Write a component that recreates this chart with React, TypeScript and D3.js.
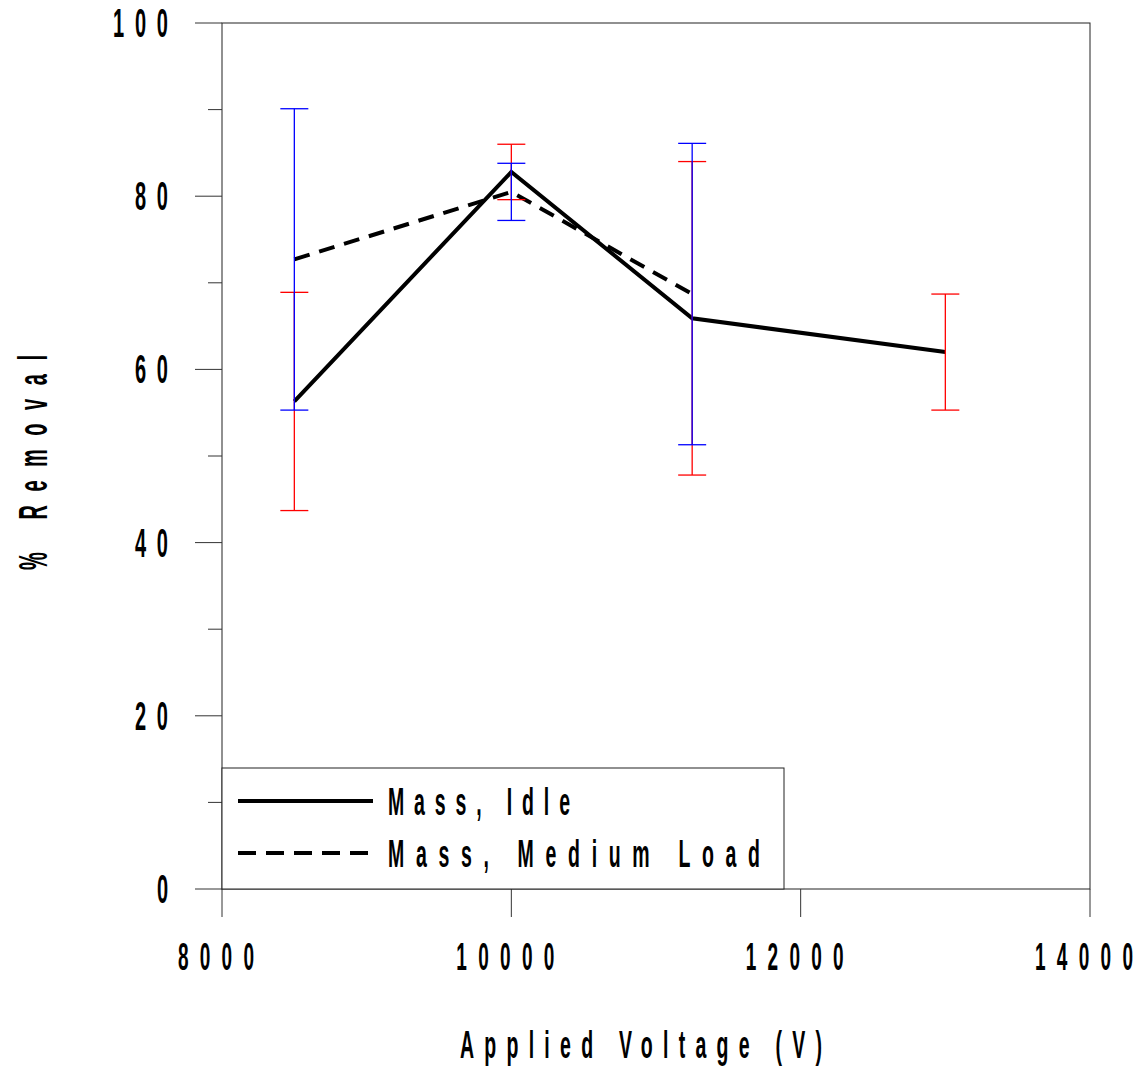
import React from "react";
import * as d3 from "d3";

// Applied voltage (V) at each test point
const voltage = [8500, 10000, 11250, 13000];
// % removal, mass basis, idle engine
const idleRemoval = [56.3, 82.8, 65.9, 62.0];
const idleError = [12.6, 3.2, 18.1, 6.7];
// % removal, mass basis, medium load (no run at 13000 V)
const mediumRemoval = [72.7, 80.5, 68.7];
const mediumError = [17.4, 3.3, 17.4];

const xTicks = [8000, 10000, 12000, 14000];
const yMajorTicks = [0, 20, 40, 60, 80, 100];
const yMinorTicks = [10, 30, 50, 70, 90];

const legendItems = ["Mass, Idle", "Mass, Medium Load"];

const W = 1139;
const H = 1067;
const plot = { left: 222, right: 1090, top: 23, bottom: 889 };

const FONT = "'Liberation Sans', Arial, sans-serif";
const SX = 0.5;

function CondText({
  x,
  y,
  width,
  size,
  rotate = 0,
  children,
}: {
  x: number;
  y: number;
  width: number;
  size: number;
  rotate?: number;
  children: string;
}) {
  return (
    <text
      transform={`translate(${x},${y}) rotate(${rotate}) scale(${SX},1)`}
      textLength={width / SX}
      lengthAdjust="spacing"
      fontSize={size}
      fontWeight="bold"
      fontFamily={FONT}
      fill="#000"
    >
      {children}
    </text>
  );
}

export default function App() {
  const x = d3.scaleLinear().domain([8000, 14000]).range([plot.left, plot.right]);
  const y = d3.scaleLinear().domain([0, 100]).range([plot.bottom, plot.top]);

  const line = d3
    .line<[number, number]>()
    .x((d) => x(d[0]))
    .y((d) => y(d[1]));

  const idlePts = voltage.map((v, i) => [v, idleRemoval[i]] as [number, number]);
  const mediumPts = mediumRemoval.map((m, i) => [voltage[i], m] as [number, number]);

  const cap = 14;
  const errBar = (v: number, m: number, e: number, color: string, key: string) => (
    <g key={key} stroke={color} strokeWidth={1.3} fill="none">
      <line x1={x(v)} x2={x(v)} y1={y(m + e)} y2={y(m - e)} />
      <line x1={x(v) - cap} x2={x(v) + cap} y1={y(m + e)} y2={y(m + e)} />
      <line x1={x(v) - cap} x2={x(v) + cap} y1={y(m - e)} y2={y(m - e)} />
    </g>
  );

  const yLabelW = (s: string) => (s.length === 1 ? 11 : s.length === 2 ? 33 : 55);
  const xLabelW = (s: string) => (s.length === 4 ? 76 : 98);
  const xLabelOff = (s: string) => (s.length === 4 ? 44 : 55);

  return (
    <svg
      width={W}
      height={H}
      style={{ position: "absolute", left: 0, top: 0, background: "#fff" }}
    >
      <rect x={0} y={0} width={W} height={H} fill="#fff" />

      {/* frame */}
      <rect
        x={plot.left}
        y={plot.top}
        width={plot.right - plot.left}
        height={plot.bottom - plot.top}
        fill="none"
        stroke="#222"
        strokeWidth={1}
      />

      {/* y ticks */}
      {yMajorTicks.map((t) => (
        <g key={`ym${t}`}>
          <line x1={plot.left - 27} x2={plot.left} y1={y(t)} y2={y(t)} stroke="#333" />
          <CondText x={168 - yLabelW(String(t))} y={y(t) + 14} width={yLabelW(String(t))} size={40}>
            {String(t)}
          </CondText>
        </g>
      ))}
      {yMinorTicks.map((t) => (
        <line key={`yn${t}`} x1={plot.left - 14} x2={plot.left} y1={y(t)} y2={y(t)} stroke="#333" />
      ))}

      {/* x ticks */}
      {xTicks.map((t) => (
        <g key={`x${t}`}>
          <line x1={x(t)} x2={x(t)} y1={plot.bottom} y2={plot.bottom + 28} stroke="#333" />
          <CondText x={x(t) - xLabelOff(String(t))} y={970} width={xLabelW(String(t))} size={38}>
            {String(t)}
          </CondText>
        </g>
      ))}

      {/* axis titles */}
      <CondText x={460} y={1058} width={362} size={39}>
        Applied Voltage (V)
      </CondText>
      <CondText x={47} y={570} width={215} size={40} rotate={-90}>
        % Removal
      </CondText>

      {/* series lines */}
      <path d={line(idlePts) ?? ""} fill="none" stroke="#000" strokeWidth={4} strokeLinejoin="miter" />
      <path
        d={line(mediumPts) ?? ""}
        fill="none"
        stroke="#000"
        strokeWidth={4}
        strokeDasharray="16 10"
      />

      {/* error bars */}
      {voltage.map((v, i) => errBar(v, idleRemoval[i], idleError[i], "#ff0000", `ie${i}`))}
      {mediumRemoval.map((m, i) => errBar(voltage[i], m, mediumError[i], "#0000ff", `me${i}`))}

      {/* legend */}
      <rect x={222} y={768} width={562} height={121} fill="#fff" stroke="#222" strokeWidth={1} />
      <line x1={238} x2={373} y1={801} y2={801} stroke="#000" strokeWidth={4} />
      <line x1={238} x2={373} y1={853} y2={853} stroke="#000" strokeWidth={4} strokeDasharray="18 10" />
      <CondText x={388} y={815} width={182} size={39}>
        {legendItems[0]}
      </CondText>
      <CondText x={388} y={867} width={372} size={39}>
        {legendItems[1]}
      </CondText>
    </svg>
  );
}
